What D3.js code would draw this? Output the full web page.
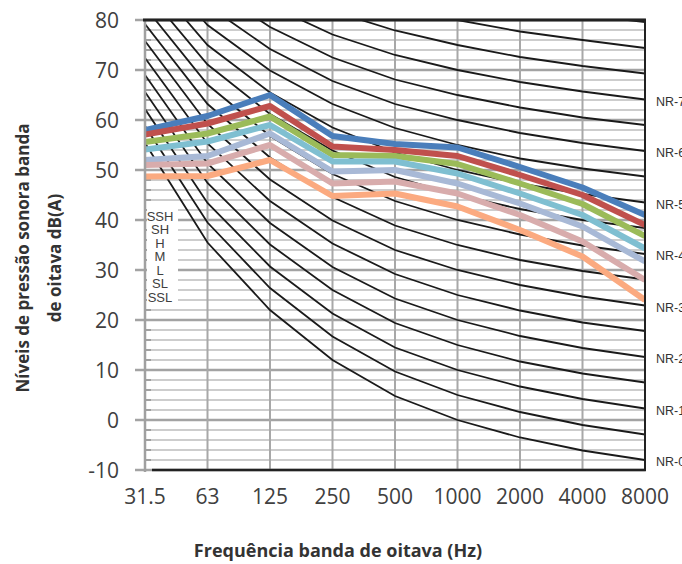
<!DOCTYPE html>
<html>
<head>
<meta charset="utf-8">
<script src="https://cdn.jsdelivr.net/npm/d3@7"></script>
<style>
	body { margin: 0; background: #fff; }
	svg { display: block; }
</style>
</head>
<body>
<svg id="svg" width="682" height="564"></svg>
<script>
// bandas de oitava
const bands = ['31.5', '63', '125', '250', '500', '1000', '2000', '4000', '8000'];
const yTicks = [-10, 0, 10, 20, 30, 40, 50, 60, 70, 80];

// curvas NR (dB por banda)
const nrLevels = [0, 5, 10, 15, 20, 25, 30, 35, 40, 45, 50, 55, 60, 65, 70, 75, 80, 85];
const nrCurves = [
	[55.4, 35.5, 22.0, 12.0, 4.8, 0, -3.5, -6.1, -8.0],
	[58.8, 39.5, 26.4, 16.7, 9.7, 5, 1.6, -1.0, -2.9],
	[62.2, 43.4, 30.7, 21.3, 14.5, 10, 6.7, 4.2, 2.3],
	[65.6, 47.4, 35.1, 26.0, 19.4, 15, 11.7, 9.3, 7.5],
	[69.0, 51.3, 39.4, 30.6, 24.3, 20, 16.8, 14.4, 12.6],
	[72.4, 55.3, 43.8, 35.3, 29.2, 25, 21.9, 19.5, 17.8],
	[75.8, 59.2, 48.1, 39.9, 34.0, 30, 27.0, 24.7, 22.9],
	[79.2, 63.2, 52.5, 44.6, 38.9, 35, 32.0, 29.8, 28.1],
	[82.6, 67.1, 56.8, 49.2, 43.8, 40, 37.1, 34.9, 33.2],
	[86.0, 71.1, 61.2, 53.9, 48.6, 45, 42.2, 40.0, 38.4],
	[89.5, 75.0, 65.5, 58.5, 53.5, 50, 47.3, 45.2, 43.5],
	[92.9, 79.0, 69.9, 63.2, 58.4, 55, 52.3, 50.3, 48.7],
	[96.3, 82.9, 74.2, 67.8, 63.2, 60, 57.4, 55.4, 53.8],
	[99.7, 86.9, 78.6, 72.5, 68.1, 65, 62.5, 60.5, 59.0],
	[103.1, 90.8, 82.9, 77.1, 73.0, 70, 67.6, 65.7, 64.1],
	[106.5, 94.8, 87.3, 81.8, 77.9, 75, 72.6, 70.8, 69.3],
	[109.9, 98.7, 91.6, 86.4, 82.7, 80, 77.7, 76.0, 74.4],
	[113.3, 102.7, 96.0, 91.1, 87.6, 85, 82.8, 81.0, 79.6],
];

// modos de ventilador
const modes = ['SSH', 'SH', 'H', 'M', 'L', 'SL', 'SSL'];
const modeColors = ['#4a7ebb', '#c0504d', '#9bbb59', '#7fbfd1', '#a8b9d6', '#d8acac', '#fbaa80'];
const SSH = [58.0, 60.8, 65.0, 56.8, 55.2, 54.5, 50.6, 46.5, 41.0];
const SH  = [57.1, 59.3, 62.8, 54.7, 54.0, 52.8, 49.0, 45.0, 39.0];
const H   = [55.6, 57.3, 60.7, 53.0, 52.8, 51.2, 47.3, 43.2, 36.8];
const M   = [54.1, 55.7, 59.0, 51.7, 51.7, 49.3, 45.3, 41.0, 34.3];
const L   = [52.0, 52.8, 57.3, 49.7, 50.0, 47.3, 43.3, 38.7, 31.7];
const SL  = [51.0, 51.3, 55.0, 47.3, 47.7, 45.3, 41.0, 35.7, 28.0];
const SSL = [48.7, 48.8, 52.0, 44.8, 45.3, 42.7, 38.0, 32.7, 24.0];
const modeSeries = [SSH, SH, H, M, L, SL, SSL];

let svg = d3.select('#svg');
let x = d3.scalePoint().domain(bands).range([145, 645]),
	y = d3.scaleLinear().domain([-10, 80]).range([470, 20]);

const FONT = '"Open Sans", "DejaVu Sans", sans-serif';

// grade
let grid = svg.append('g');
let minor = d3.range(-10, 81, 2).filter(v => v % 10 !== 0);
grid.selectAll('.minor').data(minor).enter().append('line')
	.attr('x1', 145).attr('x2', 645)
	.attr('y1', d => y(d)).attr('y2', d => y(d))
	.attr('stroke', '#cdcdcd').attr('stroke-width', 2);
grid.selectAll('.minortick').data(minor).enter().append('line')
	.attr('x1', 145).attr('x2', 151)
	.attr('y1', d => y(d)).attr('y2', d => y(d))
	.attr('stroke', '#a0a0a0').attr('stroke-width', 2);
grid.selectAll('.major').data(yTicks).enter().append('line')
	.attr('x1', 135).attr('x2', 645)
	.attr('y1', d => y(d)).attr('y2', d => y(d))
	.attr('stroke', '#a3a3a3').attr('stroke-width', 2.5);
grid.selectAll('.vert').data(bands).enter().append('line')
	.attr('x1', d => x(d)).attr('x2', d => x(d))
	.attr('y1', 20).attr('y2', 470)
	.attr('stroke', '#a8a8a8').attr('stroke-width', 2);

// legenda (caixa branca)
svg.append('rect').attr('x', 147).attr('y', 208).attr('width', 31).attr('height', 96).attr('fill', '#fff');

svg.append('clipPath').attr('id', 'plot').append('rect')
	.attr('x', 145).attr('y', 20).attr('width', 500).attr('height', 450);

let line = d3.line().x((d, i) => x(bands[i])).y(d => y(d));

let body = svg.append('g').attr('clip-path', 'url(#plot)');
body.selectAll('.nr').data(nrCurves).enter().append('path')
	.attr('d', line).attr('fill', 'none')
	.attr('stroke', '#1a1a1a').attr('stroke-width', 1.8);

body.selectAll('.mode').data(modeSeries).enter().append('path')
	.attr('d', line).attr('fill', 'none')
	.attr('stroke', (d, i) => modeColors[i]).attr('stroke-width', 6)
	.attr('stroke-linejoin', 'round');

// bordas
svg.append('line').attr('x1', 145).attr('x2', 145).attr('y1', 20).attr('y2', 472)
	.attr('stroke', '#a0a0a0').attr('stroke-width', 2.5);
svg.append('line').attr('x1', 143).attr('x2', 646).attr('y1', 20).attr('y2', 20)
	.attr('stroke', '#222').attr('stroke-width', 3);
svg.append('line').attr('x1', 645).attr('x2', 645).attr('y1', 20).attr('y2', 471)
	.attr('stroke', '#222').attr('stroke-width', 2);
svg.append('line').attr('x1', 152).attr('x2', 646).attr('y1', 470).attr('y2', 470)
	.attr('stroke', '#222').attr('stroke-width', 2.5);

// legenda
svg.append('g').selectAll('text').data(modes).enter().append('text')
	.attr('x', 160).attr('y', (d, i) => 216 + i * 13.5)
	.attr('text-anchor', 'middle').attr('dominant-baseline', 'central')
	.attr('font-family', '"Liberation Sans Narrow", sans-serif').attr('font-size', 13)
	.attr('fill', '#404040').text(d => d);

// rotulos NR
let nrLabeled = nrLevels.filter(v => v % 10 === 0 && v <= 70);
svg.append('g').selectAll('text').data(nrLabeled).enter().append('text')
	.attr('x', 656).attr('y', d => y(nrCurves[nrLevels.indexOf(d)][8]) + 2)
	.attr('dominant-baseline', 'central')
	.attr('font-family', '"Liberation Sans", Arial, sans-serif').attr('font-size', 12.5)
	.attr('fill', '#333').text(d => `NR-${d}`);

// eixos
svg.append('g').selectAll('text').data(yTicks).enter().append('text')
	.attr('x', 119).attr('y', d => y(d))
	.attr('text-anchor', 'end').attr('dominant-baseline', 'central')
	.attr('font-family', FONT).attr('font-size', 21).attr('fill', '#404040')
	.text(d => d);

svg.append('g').selectAll('text').data(bands).enter().append('text')
	.attr('x', d => x(d)).attr('y', 504)
	.attr('text-anchor', 'middle')
	.attr('font-family', FONT).attr('font-size', 21).attr('fill', '#404040')
	.text(d => d);

svg.append('text').attr('x', 338).attr('y', 557)
	.attr('text-anchor', 'middle')
	.attr('font-family', FONT).attr('font-size', 18).attr('font-weight', 'bold')
	.attr('fill', '#333').text('Frequência banda de oitava (Hz)');

let yt = svg.append('text').attr('transform', 'translate(0,258) rotate(-90)')
	.attr('text-anchor', 'middle')
	.attr('font-family', FONT).attr('font-size', 17).attr('font-weight', 'bold')
	.attr('fill', '#333');
yt.append('tspan').attr('x', 0).attr('y', 29).text('Níveis de pressão sonora banda');
yt.append('tspan').attr('x', 0).attr('y', 61).text('de oitava dB(A)');
</script>
</body>
</html>
